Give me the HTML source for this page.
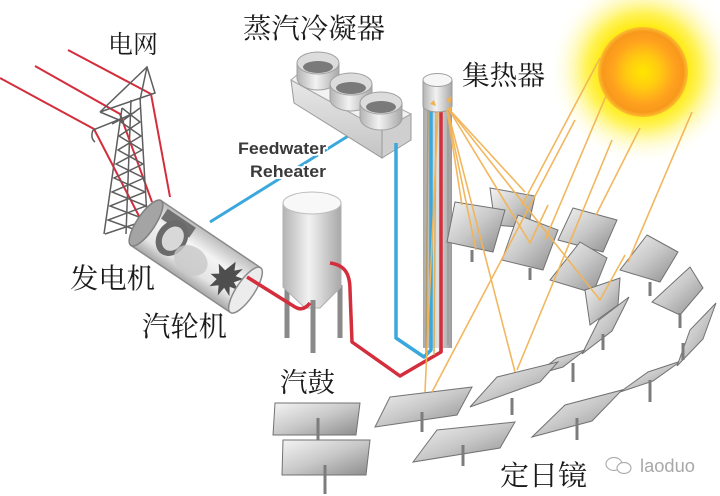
<!DOCTYPE html>
<html><head><meta charset="utf-8"><style>
html,body{margin:0;padding:0;background:#fff;}
svg{display:block;}
.cn{font-family:"Liberation Serif","Noto Serif CJK SC","Noto Sans CJK SC",serif;fill:#1a1a1a;}
</style></head><body>
<svg width="720" height="496" viewBox="0 0 720 496" xmlns="http://www.w3.org/2000/svg">
<defs>
<radialGradient id="glow" cx="643" cy="70" r="95" gradientUnits="userSpaceOnUse">
<stop offset="0" stop-color="#ffe400"/>
<stop offset="0.45" stop-color="#ffea10"/>
<stop offset="0.6" stop-color="#fff35a"/>
<stop offset="0.8" stop-color="#fffac0" stop-opacity="0.6"/>
<stop offset="1" stop-color="#ffffff" stop-opacity="0"/>
</radialGradient>
<radialGradient id="sun" cx="643" cy="72" r="45" gradientUnits="userSpaceOnUse">
<stop offset="0" stop-color="#ffe600"/>
<stop offset="0.35" stop-color="#ffcc10"/>
<stop offset="0.7" stop-color="#ffa21e"/>
<stop offset="0.9" stop-color="#f8981c"/>
<stop offset="1" stop-color="#fcc030"/>
</radialGradient>
<linearGradient id="pg" x1="0" y1="0" x2="1" y2="1">
<stop offset="0" stop-color="#f4f4f4"/>
<stop offset="0.5" stop-color="#c8c8c8"/>
<stop offset="1" stop-color="#8c8c8c"/>
</linearGradient>
<linearGradient id="cylH" x1="0" y1="0" x2="1" y2="0">
<stop offset="0" stop-color="#b4b4b4"/>
<stop offset="0.45" stop-color="#f2f2f2"/>
<stop offset="1" stop-color="#a8a8a8"/>
</linearGradient>
<linearGradient id="towerG" x1="0" y1="0" x2="1" y2="0">
<stop offset="0" stop-color="#a8a8a8"/>
<stop offset="0.5" stop-color="#e2e2e2"/>
<stop offset="1" stop-color="#9a9a9a"/>
</linearGradient>
<linearGradient id="turbG" x1="0" y1="0" x2="0" y2="1">
<stop offset="0" stop-color="#bcbcbc"/>
<stop offset="0.35" stop-color="#f4f4f4"/>
<stop offset="0.75" stop-color="#e4e4e4"/>
<stop offset="1" stop-color="#a8a8a8"/>
</linearGradient>
<linearGradient id="boxF" x1="0" y1="0" x2="0" y2="1">
<stop offset="0" stop-color="#e8e8e8"/>
<stop offset="1" stop-color="#c4c4c4"/>
</linearGradient>
</defs>

<!-- sun -->
<circle cx="643" cy="70" r="95" fill="url(#glow)"/>
<circle cx="643" cy="72" r="45" fill="url(#sun)"/>

<!-- power lines (red) -->
<g fill="none" stroke="#d42d3c" stroke-width="2">
<polyline points="68,50 151,94 170,197"/>
<polyline points="35,66 120,114 152,202"/>
<polyline points="0,78 94,129 140,218"/>
</g>

<!-- transmission tower -->
<g fill="none" stroke="#5e5e5e" stroke-width="1.5">
<polyline points="100,112 147,67 155,93 100,112"/>
<line x1="147" y1="67" x2="140" y2="100"/>
<polyline points="93,130 128,116"/>
<path d="M93,130 Q90,138 95,142"/>
<line x1="122" y1="108" x2="104" y2="234"/>
<line x1="140" y1="98" x2="148" y2="234"/>
<line x1="131" y1="100" x2="126" y2="234"/>
<path d="M122,108 L140,122 L119,136 L142,150 L116,164 L144,178 L112,192 L146,206 L108,220 L147,234"/>
<path d="M140,108 L121,122 L141,136 L118,150 L143,164 L114,178 L145,192 L110,206 L147,220 L105,234"/>
<line x1="100" y1="112" x2="124" y2="122"/>
<line x1="112" y1="124" x2="135" y2="112"/>
</g>

<!-- blue feedwater line -->
<line x1="210" y1="222" x2="353" y2="133" stroke="#3aa8dc" stroke-width="3"/>

<!-- generator / turbine -->
<g transform="translate(146,223) rotate(34)">
<rect x="0" y="-27" width="120" height="54" fill="url(#turbG)" stroke="#8a8a8a" stroke-width="1.5"/>
<ellipse cx="0" cy="0" rx="9" ry="27" fill="#a4a4a4" stroke="#808080" stroke-width="1.5"/>
<rect x="10" y="-24" width="34" height="12" fill="#707070"/>
<ellipse cx="30" cy="-2" rx="15" ry="19" fill="#6a6a6a"/>
<ellipse cx="31" cy="-2" rx="10" ry="13" fill="#d8d8d8"/>
<ellipse cx="58" cy="6" rx="18" ry="14" fill="#c8c8c8" opacity="0.8"/>
<polygon points="96,-18 100,-10 106,-16 104,-6 112,-8 106,0 114,4 105,6 110,14 101,10 100,20 95,11 88,17 90,7 82,6 89,1 83,-7 92,-5" fill="#4e4e4e"/>
<ellipse cx="120" cy="0" rx="9" ry="27" fill="#ececec" stroke="#8a8a8a" stroke-width="1.5"/>
</g>

<!-- drum (silo) legs -->
<g stroke="#8a8a8a" stroke-width="5">
<line x1="287" y1="285" x2="287" y2="338"/>
<line x1="340" y1="285" x2="340" y2="338"/>
</g>
<!-- drum body -->
<path d="M283,203 L283,287 L305,308 L320,308 L341,287 L341,203 Z" fill="url(#cylH)" stroke="#b0b0b0" stroke-width="1"/>
<ellipse cx="312" cy="203" rx="29" ry="11" fill="#f8f8f8" stroke="#bdbdbd" stroke-width="1"/>
<line x1="313" y1="300" x2="313" y2="353" stroke="#8a8a8a" stroke-width="5"/>

<!-- red steam lines -->
<g fill="none" stroke="#d42d3c" stroke-width="3.5" stroke-linejoin="round">
<path d="M247,277 L295,307 Q303,312 310,303"/>
<path d="M330,263 C345,265 350,274 350,290 L352,342 L400,376 L441,352 L441,108"/>
</g>

<!-- condenser -->
<polygon points="291,80 382,130 382,158 294,103" fill="url(#boxF)" stroke="#9a9a9a" stroke-width="1"/>
<polygon points="382,130 411,114 411,140 382,158" fill="#cfcfcf" stroke="#9a9a9a" stroke-width="1"/>
<polygon points="291,80 310,64 411,114 382,130" fill="#f3f3f3" stroke="#a8a8a8" stroke-width="1"/>
<g stroke="#a0a0a0" stroke-width="1">
<path d="M297,63 L297,78 A21,12 0 0 0 339,78 L339,63 Z" fill="url(#cylH)"/>
<ellipse cx="318" cy="63" rx="21" ry="11" fill="#dcdcdc"/>
<ellipse cx="318" cy="67" rx="15" ry="6" fill="#7a7a7a" stroke="none"/>
<path d="M330,84 L330,99 A21,12 0 0 0 372,99 L372,84 Z" fill="url(#cylH)"/>
<ellipse cx="351" cy="84" rx="21" ry="11" fill="#dcdcdc"/>
<ellipse cx="351" cy="88" rx="15" ry="6" fill="#7a7a7a" stroke="none"/>
<path d="M360,103 L360,118 A21,12 0 0 0 402,118 L402,103 Z" fill="url(#cylH)"/>
<ellipse cx="381" cy="103" rx="21" ry="11" fill="#dcdcdc"/>
<ellipse cx="381" cy="107" rx="15" ry="6" fill="#7a7a7a" stroke="none"/>
</g>

<!-- tower -->
<rect x="423" y="100" width="29" height="248" fill="url(#towerG)"/>
<line x1="448" y1="110" x2="448" y2="345" stroke="#9c9c9c" stroke-width="1.5"/>
<line x1="428" y1="110" x2="426" y2="355" stroke="#b49a62" stroke-width="1.5"/>
<line x1="436" y1="110" x2="434" y2="355" stroke="#d8b060" stroke-width="1.5"/>
<!-- blue pipe -->
<path d="M396,143 L396,338 L424,357 L431,350 L431,108" fill="none" stroke="#3aa8dc" stroke-width="3.5" stroke-linejoin="round"/>
<line x1="441" y1="108" x2="441" y2="352" stroke="#d42d3c" stroke-width="3.5"/>
<!-- receiver cap -->
<path d="M423,80 L423,106 A14.5,6 0 0 0 452,106 L452,80 Z" fill="url(#cylH)" stroke="#9a9a9a" stroke-width="1"/>
<ellipse cx="437.5" cy="80" rx="14.5" ry="6.5" fill="#f6f6f6" stroke="#a0a0a0" stroke-width="1"/>
<g fill="#f2b14e">
<polygon points="430,104 434,100 436,106"/>
<polygon points="446,100 452,96 450,104"/>
<polygon points="447,110 452,106 451,113"/>
</g>

<!-- heliostats: upper cluster -->
<g fill="url(#pg)" stroke="#727272" stroke-width="1">
<polygon points="490,188 535,196 528,228 495,225"/>
<polygon points="455,202 505,210 493,252 447,242"/>
<polygon points="518,215 558,230 543,270 502,260"/>
<polygon points="573,208 617,220 603,252 558,240"/>
<polygon points="580,242 607,258 593,293 550,280"/>
<polygon points="585,290 620,278 618,305 590,325"/>
<polygon points="647,235 678,252 660,282 620,270"/>
<polygon points="690,267 703,288 680,315 652,302"/>
<!-- thin edge-on chains -->
<polygon points="582,354 599,320 629,297 612,331"/>
<polygon points="535,375 557,358 585,350 563,367"/>
<polygon points="620,392 648,372 681,361 653,381"/>
<polygon points="677,366 690,330 716,303 703,339"/>
</g>
<g stroke="#7c7c7c" stroke-width="3">
<line x1="472" y1="250" x2="472" y2="262"/>
<line x1="530" y1="268" x2="530" y2="280"/>
<line x1="650" y1="282" x2="650" y2="296"/>
<line x1="680" y1="313" x2="680" y2="328"/>
<line x1="603" y1="334" x2="603" y2="350"/>
<line x1="573" y1="363" x2="573" y2="382"/>
<line x1="650" y1="380" x2="650" y2="402"/>
<line x1="683" y1="343" x2="683" y2="360"/>
</g>

<!-- heliostats: bottom row -->
<g fill="url(#pg)" stroke="#727272" stroke-width="1">
<polygon points="390,397 472,387 457,415 375,427"/>
<polygon points="437,430 515,422 500,448 413,462"/>
<polygon points="497,377 558,362 540,382 470,407"/>
<polygon points="532,437 565,405 622,390 592,421"/>
<polygon points="275,403 360,403 356,435 273,435"/>
<polygon points="283,440 370,440 366,475 282,475"/>
</g>
<g stroke="#7c7c7c" stroke-width="3">
<line x1="422" y1="412" x2="422" y2="432"/>
<line x1="463" y1="445" x2="463" y2="466"/>
<line x1="512" y1="398" x2="512" y2="415"/>
<line x1="577" y1="418" x2="577" y2="440"/>
<line x1="318" y1="418" x2="318" y2="440"/>
<line x1="325" y1="465" x2="325" y2="494"/>
</g>

<!-- light rays -->
<g fill="none" stroke="#f2b456" stroke-width="1.6" opacity="0.95">
<line x1="600" y1="58" x2="522" y2="205"/>
<line x1="606" y1="96" x2="545" y2="240"/>
<line x1="640" y1="128" x2="596" y2="215"/>
<line x1="692" y1="112" x2="628" y2="262"/>
<line x1="575" y1="120" x2="432" y2="392"/>
<line x1="612" y1="140" x2="517" y2="370"/>
<line x1="447" y1="110" x2="462" y2="205"/>
<line x1="447" y1="110" x2="476" y2="250"/>
<polyline points="448,108 530,243 548,205"/>
<polyline points="448,108 600,300 625,255"/>
<line x1="448" y1="108" x2="525" y2="192"/>
<line x1="448" y1="112" x2="515" y2="372"/>
<line x1="438" y1="112" x2="425" y2="392"/>
</g>

<!-- labels -->
<text x="108" y="53" class="cn" font-size="25" textLength="50" lengthAdjust="spacingAndGlyphs">电网</text>
<text x="243" y="38" class="cn" font-size="28" textLength="142" lengthAdjust="spacingAndGlyphs">蒸汽冷凝器</text>
<text x="462" y="85" class="cn" font-size="27" textLength="83" lengthAdjust="spacingAndGlyphs">集热器</text>
<text x="70" y="288" class="cn" font-size="28" textLength="85" lengthAdjust="spacingAndGlyphs">发电机</text>
<text x="142" y="336" class="cn" font-size="28" textLength="85" lengthAdjust="spacingAndGlyphs">汽轮机</text>
<text x="280" y="392" class="cn" font-size="27" textLength="55" lengthAdjust="spacingAndGlyphs">汽鼓</text>
<text x="500" y="485" class="cn" font-size="28" textLength="87" lengthAdjust="spacingAndGlyphs">定日镜</text>

<g font-family="Liberation Sans, sans-serif" font-weight="bold" font-size="17" fill="#3a3a3a" stroke="#fff" stroke-width="4" paint-order="stroke">
<text x="238" y="154" textLength="88" lengthAdjust="spacingAndGlyphs">Feedwater</text>
<text x="250" y="177" textLength="76" lengthAdjust="spacingAndGlyphs">Reheater</text>
</g>

<!-- watermark -->
<g fill="none" stroke="#b0b0b0" stroke-width="1.2">
<ellipse cx="614" cy="464" rx="8" ry="6.5"/>
<ellipse cx="624" cy="468" rx="7" ry="5.5" fill="#fff"/>
</g>
<text x="640" y="472" font-family="Liberation Sans, sans-serif" font-size="18" fill="#a8a8a8" textLength="55" lengthAdjust="spacingAndGlyphs">laoduo</text>
</svg>
</body></html>
